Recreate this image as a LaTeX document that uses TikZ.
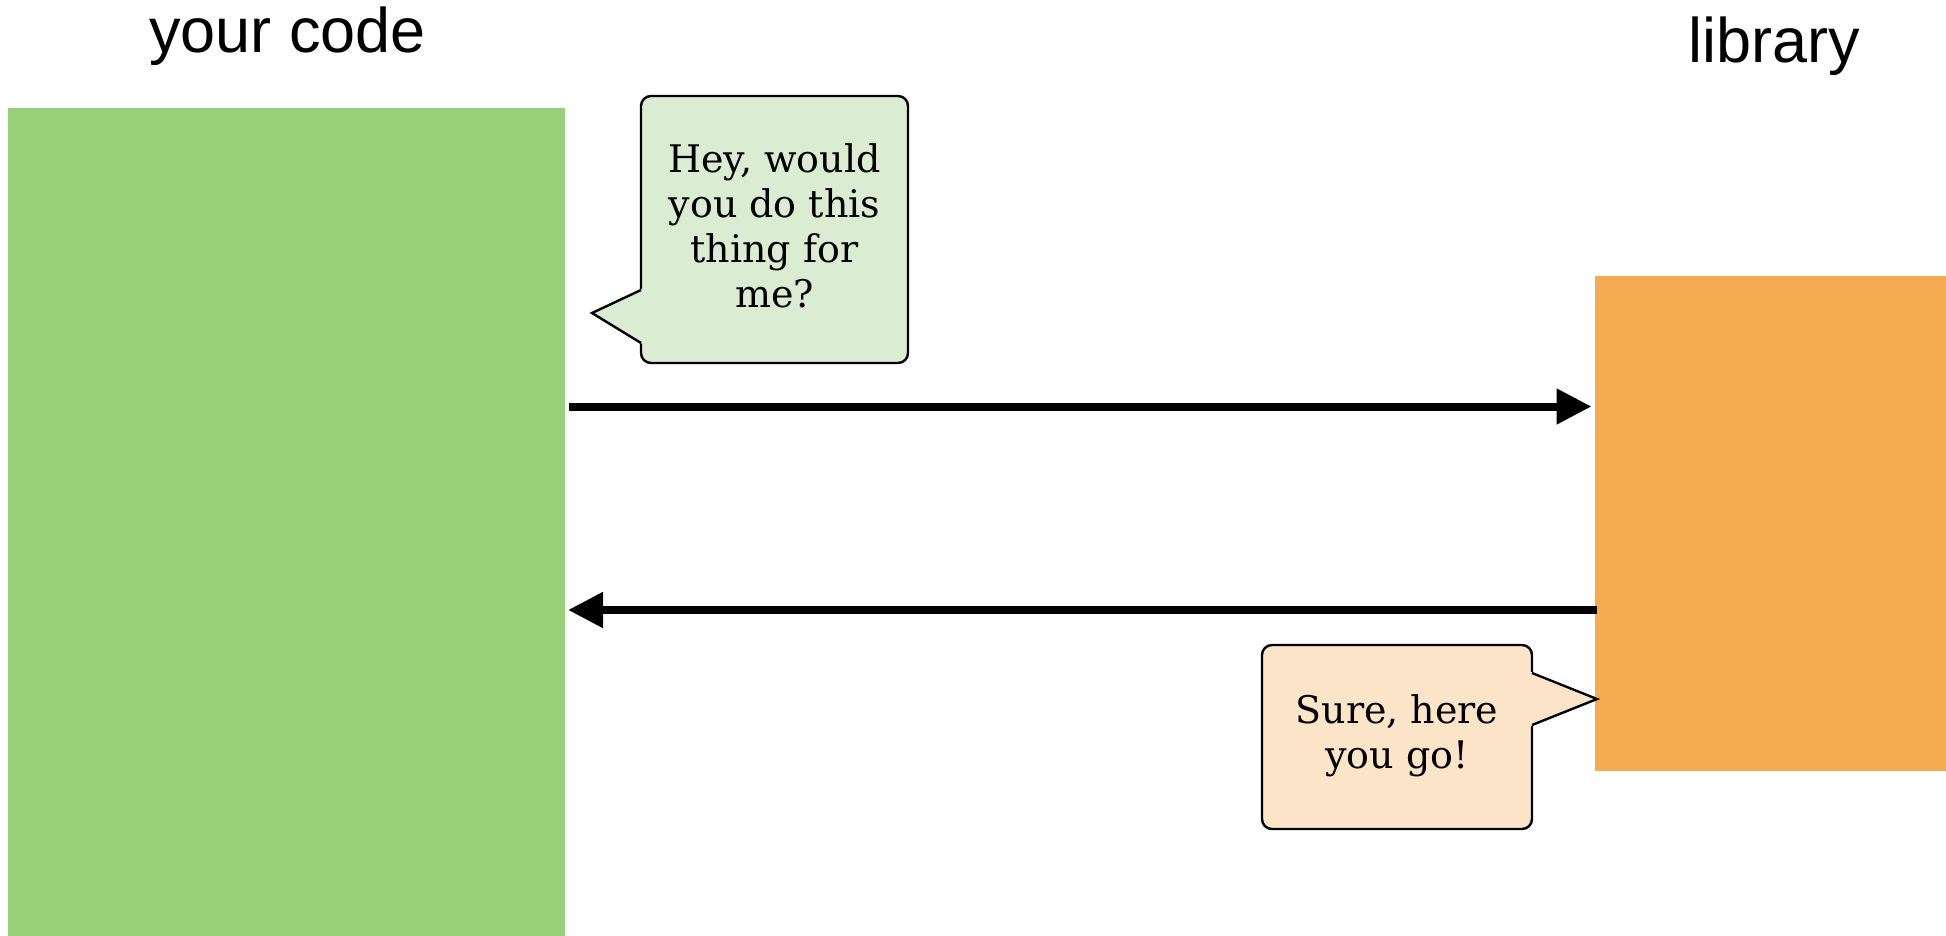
\documentclass[tikz,border=0pt]{standalone}
\usepackage{fontspec}
\setmainfont{DejaVu Serif}
\newfontfamily\titlefont{Liberation Sans}
\usetikzlibrary{arrows.meta,calc}
\definecolor{codegreen}{HTML}{97D077}
\definecolor{liborange}{HTML}{F5AB52}
\definecolor{askfill}{HTML}{DAEDD3}
\definecolor{replyfill}{HTML}{FBE4C7}
\begin{document}
\begin{tikzpicture}[x=1pt,y=-1pt,
  block/.style={inner sep=0pt, outer sep=0pt, draw=none},
  title/.style={font=\titlefont\fontsize{63}{70}\selectfont, anchor=base, inner sep=0pt},
  bubble/.style={rounded corners=10pt, draw=black, line width=2.4pt, inner sep=0pt, outer sep=0pt},
  bubbletext/.style={font=\fontsize{38}{45}\selectfont, align=center, inner sep=0pt},
  pointer/.style={draw=black, line width=2.4pt, line join=miter},
  flow/.style={line width=8pt, -{Triangle[length=35pt,width=34pt]}}]
\useasboundingbox (0,0) rectangle (1946,936);
% blocks
\node[block, fill=codegreen, minimum width=557pt, minimum height=828pt] (code) at (286.5,522) {};
\node[block, fill=liborange, minimum width=352pt, minimum height=495pt] (lib) at (1770.5,523.5) {};
% titles
\node[title] (codetitle) at (287.5,53) {your code};
\node[title] (libtitle) at (1774,63) {library};
% arrows
\coordinate (r1) at (0,406.5);
\coordinate (r2) at (0,610);
\draw[flow] ($(code.east |- r1)+(4,0)$) -- ($(lib.west |- r1)+(-3,0)$);
\draw[flow] ($(lib.west |- r2)+(2.5,0)$) -- ($(code.east |- r2)+(3,0)$);
% ask bubble
\node[bubble, fill=askfill, minimum width=267pt, minimum height=267pt] (ask) at (774.5,229.5) {};
\coordinate (askptr) at (592,313);
\fill[askfill] ($(ask.north west)+(3,192)$) -- (askptr) -- ($(ask.north west)+(3,249)$) -- cycle;
\draw[pointer] ($(ask.north west)+(0,194)$) -- (askptr) -- ($(ask.north west)+(0,247)$);
\node[bubbletext] (asktext) at (774.5,226) {Hey, would\\you do this\\thing for\\me?};
% reply bubble
\node[bubble, fill=replyfill, minimum width=270pt, minimum height=184pt] (reply) at (1397,737) {};
\coordinate (replyptr) at (1597,699);
\fill[replyfill] ($(reply.north east)+(-3,26)$) -- (replyptr) -- ($(reply.north east)+(-3,82)$) -- cycle;
\draw[pointer] ($(reply.north east)+(0,28)$) -- (replyptr) -- ($(reply.north east)+(0,80)$);
\node[bubbletext] (replytext) at (1397,736) {Sure, here\\you go!};
\end{tikzpicture}
\end{document}
